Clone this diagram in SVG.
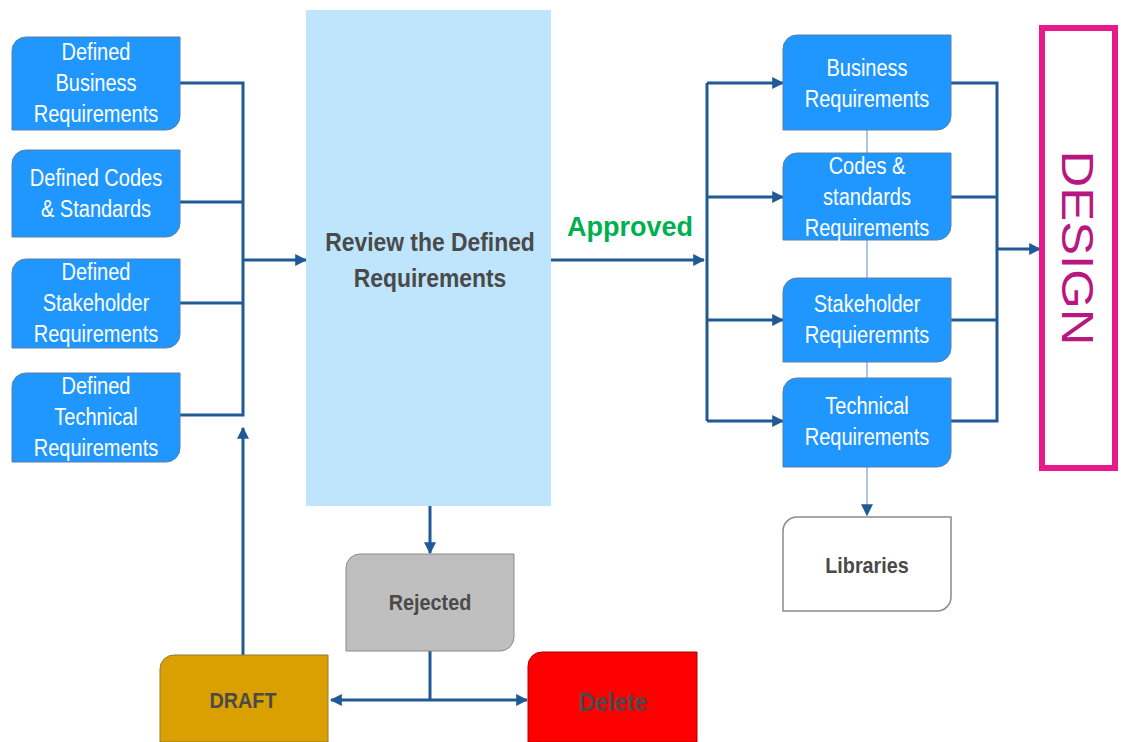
<svg xmlns="http://www.w3.org/2000/svg" width="1121" height="742" viewBox="0 0 1121 742">
<defs>
<marker id="ah" viewBox="0 0 10 10" refX="9" refY="5" markerWidth="4" markerHeight="4" orient="auto-start-reverse" markerUnits="strokeWidth">
<path d="M0,0 L10,5 L0,10 Z" fill="#1F5A96"/>
</marker>
<marker id="ahl" viewBox="0 0 10 10" refX="9" refY="5" markerWidth="8" markerHeight="8" orient="auto" markerUnits="strokeWidth">
<path d="M0,0 L10,5 L0,10 Z" fill="#1F5A96"/>
</marker>
<style>
.blue{fill:#1F97FF;stroke:#5A7FA8;stroke-width:1}
.wt{font-family:"Liberation Sans",Arial,sans-serif;font-size:23px;fill:#FFFFFF;text-anchor:middle}
.dt{font-family:"Liberation Sans",Arial,sans-serif;font-weight:bold;fill:#4A4A4A;text-anchor:middle}
.ln{fill:none;stroke:#1F5A96;stroke-width:3}
</style>
</defs>
<rect width="1121" height="742" fill="#FFFFFF"/>

<g id="connectors">
<line x1="867" y1="130" x2="867" y2="515" stroke="#8DB4DA" stroke-width="1.5" marker-end="url(#ahl)"/>
<path class="ln" d="M180,83 H243 V415 H180 M180,202 H243 M180,303 H243"/>
<line class="ln" x1="243" y1="260" x2="306" y2="260" marker-end="url(#ah)"/>
<line class="ln" x1="243" y1="655" x2="243" y2="428" marker-end="url(#ah)"/>
<line class="ln" x1="551" y1="260" x2="704" y2="260" marker-end="url(#ah)"/>
<path class="ln" d="M707,421 V83"/>
<line class="ln" x1="707" y1="83" x2="783" y2="83" marker-end="url(#ah)"/>
<line class="ln" x1="707" y1="197" x2="783" y2="197" marker-end="url(#ah)"/>
<line class="ln" x1="707" y1="320" x2="783" y2="320" marker-end="url(#ah)"/>
<line class="ln" x1="707" y1="421" x2="783" y2="421" marker-end="url(#ah)"/>
<path class="ln" d="M951,83 H997 V421 H951 M951,197 H997 M951,320 H997"/>
<line class="ln" x1="997" y1="249" x2="1040" y2="249" marker-end="url(#ah)"/>
<line class="ln" x1="430" y1="506" x2="430" y2="553" marker-end="url(#ah)"/>
<line class="ln" x1="430" y1="651" x2="430" y2="700"/>
<line class="ln" x1="331" y1="700" x2="527" y2="700" marker-start="url(#ah)" marker-end="url(#ah)"/>
</g>

<g id="def-business">
<path class="blue" d="M26,37 H180 V116 A14,14 0 0 1 166,130 H12 V51 A14,14 0 0 1 26,37 Z"/>
<g transform="translate(96 0) scale(0.87 1)">
<text class="wt" x="0" y="60">Defined</text>
<text class="wt" x="0" y="91">Business</text>
<text class="wt" x="0" y="122">Requirements</text>
</g>
</g>
<g id="def-codes">
<path class="blue" d="M26,150 H180 V223 A14,14 0 0 1 166,237 H12 V164 A14,14 0 0 1 26,150 Z"/>
<g transform="translate(96 0) scale(0.87 1)">
<text class="wt" x="0" y="186">Defined Codes</text>
<text class="wt" x="0" y="217">&amp; Standards</text>
</g>
</g>
<g id="def-stakeholder">
<path class="blue" d="M26,259 H180 V334 A14,14 0 0 1 166,348 H12 V273 A14,14 0 0 1 26,259 Z"/>
<g transform="translate(96 0) scale(0.87 1)">
<text class="wt" x="0" y="280">Defined</text>
<text class="wt" x="0" y="311">Stakeholder</text>
<text class="wt" x="0" y="342">Requirements</text>
</g>
</g>
<g id="def-technical">
<path class="blue" d="M26,373 H180 V448 A14,14 0 0 1 166,462 H12 V387 A14,14 0 0 1 26,373 Z"/>
<g transform="translate(96 0) scale(0.87 1)">
<text class="wt" x="0" y="394">Defined</text>
<text class="wt" x="0" y="425">Technical</text>
<text class="wt" x="0" y="456">Requirements</text>
</g>
</g>

<g id="review">
<rect x="306" y="10" width="245" height="496" fill="#BFE5FD"/>
<g transform="translate(430 0) scale(0.88 1)">
<text class="dt" x="0" y="251" font-size="26">Review the Defined</text>
<text class="dt" x="0" y="287" font-size="26">Requirements</text>
</g>
</g>

<g id="approved-label">
<text x="630" y="236" font-family="'Liberation Sans',Arial,sans-serif" font-weight="bold" font-size="27" fill="#00B050" text-anchor="middle">Approved</text>
</g>

<g id="business">
<path class="blue" d="M797,35 H951 V116 A14,14 0 0 1 937,130 H783 V49 A14,14 0 0 1 797,35 Z"/>
<g transform="translate(867 0) scale(0.87 1)">
<text class="wt" x="0" y="76">Business</text>
<text class="wt" x="0" y="107">Requirements</text>
</g>
</g>
<g id="codes">
<path class="blue" d="M797,153 H951 V226 A14,14 0 0 1 937,240 H783 V167 A14,14 0 0 1 797,153 Z"/>
<g transform="translate(867 0) scale(0.87 1)">
<text class="wt" x="0" y="174">Codes &amp;</text>
<text class="wt" x="0" y="205">standards</text>
<text class="wt" x="0" y="236">Requirements</text>
</g>
</g>
<g id="stakeholder">
<path class="blue" d="M797,278 H951 V348 A14,14 0 0 1 937,362 H783 V292 A14,14 0 0 1 797,278 Z"/>
<g transform="translate(867 0) scale(0.87 1)">
<text class="wt" x="0" y="312">Stakeholder</text>
<text class="wt" x="0" y="343">Requieremnts</text>
</g>
</g>
<g id="technical">
<path class="blue" d="M797,378 H951 V453 A14,14 0 0 1 937,467 H783 V392 A14,14 0 0 1 797,378 Z"/>
<g transform="translate(867 0) scale(0.87 1)">
<text class="wt" x="0" y="414">Technical</text>
<text class="wt" x="0" y="445">Requirements</text>
</g>
</g>
<g id="libraries">
<path d="M797,517 H951 V597 A14,14 0 0 1 937,611 H783 V531 A14,14 0 0 1 797,517 Z" fill="#FFFFFF" stroke="#8A8A8A" stroke-width="1.5"/>
<g transform="translate(867 0) scale(0.9 1)">
<text class="dt" x="0" y="573" font-size="22">Libraries</text>
</g>
</g>

<g id="design">
<rect x="1042" y="28" width="73" height="440" fill="#FFFFFF" stroke="#E8198B" stroke-width="6"/>
<text transform="translate(1062,248) rotate(90)" x="0" y="0" font-family="'Liberation Sans',Arial,sans-serif" font-size="44" fill="#B8177F" text-anchor="middle" textLength="195" lengthAdjust="spacingAndGlyphs">DESIGN</text>
</g>

<g id="rejected">
<path d="M360,554 H514 V637 A14,14 0 0 1 500,651 H346 V568 A14,14 0 0 1 360,554 Z" fill="#BFBFBF" stroke="#8A8A8A" stroke-width="1"/>
<g transform="translate(430 0) scale(0.9 1)">
<text class="dt" x="0" y="610" font-size="22">Rejected</text>
</g>
</g>
<g id="draft">
<path d="M174,655 H328 V742 H160 V669 A14,14 0 0 1 174,655 Z" fill="#DAA000" stroke="#8A7A40" stroke-width="1"/>
<g transform="translate(243 0) scale(0.9 1)">
<text class="dt" x="0" y="708" font-size="22">DRAFT</text>
</g>
</g>
<g id="delete">
<path d="M542,652 H697 V742 H528 V666 A14,14 0 0 1 542,652 Z" fill="#FF0000" stroke="#B00000" stroke-width="1"/>
<g transform="translate(613 0) scale(0.88 1)">
<text class="dt" x="0" y="711" font-size="26" fill="#4A3A3A">Delete</text>
</g>
</g>
</svg>
